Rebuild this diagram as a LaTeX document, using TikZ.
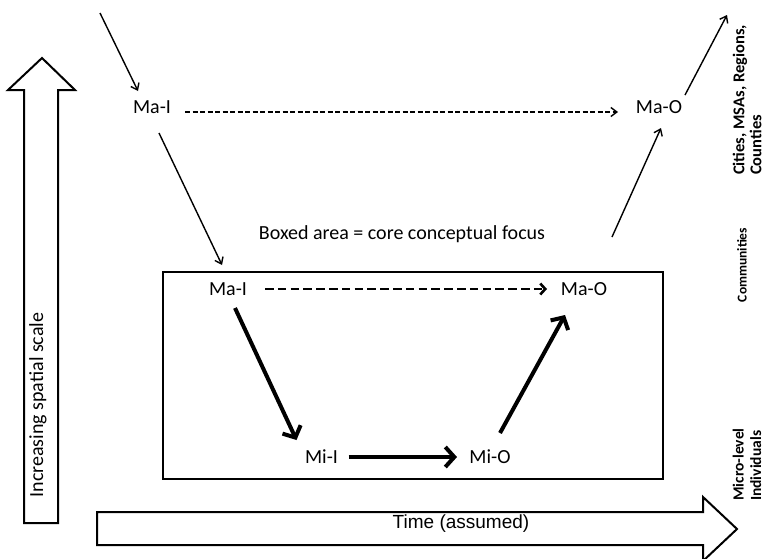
\documentclass[tikz,border=0pt]{standalone}
\usepackage{fontspec}
\setmainfont{Carlito}
\newfontfamily\arialf{Liberation Sans}
\usetikzlibrary{arrows.meta,calc}
\begin{document}
\begin{tikzpicture}[x=1pt,y=-1pt,
  lbl/.style={inner sep=0pt,font=\fontsize{20}{24}\selectfont},
  sidelbl/.style={inner sep=0pt,rotate=90,anchor=west,align=left,font=\bfseries\fontsize{15.5}{17.5}\selectfont},
  thinarrow/.style={line width=1.4pt,-{Straight Barb[length=6pt,width=9pt]}},
  thindash/.style={thinarrow,dash pattern=on 5pt off 2.5pt},
  thickarrow/.style={line width=4pt,-{Straight Barb[length=9pt,width=20pt]}},
  middash/.style={line width=2.6pt,dash pattern=on 8.5pt off 4.3pt,-{Straight Barb[length=5pt,width=11pt]}},
  blockarrow/.style={draw,line width=2pt,fill=white,line join=miter}]
\useasboundingbox (0,0) rectangle (767,558);
\clip (0,0) rectangle (767,558);
\fill[white] (0,0) rectangle (767,558);

% block arrows
\draw[blockarrow] (24,523) -- (24,90) -- (8,90) -- (42,58) -- (75,90) -- (58,90) -- (58,523) -- cycle;
\draw[blockarrow] (97,512) -- (703,512) -- (703,497) -- (737,529) -- (703,561) -- (703,545) -- (97,545) -- cycle;
\node[lbl,rotate=90] (scale) at (38,405) {Increasing spatial scale};
\node[inner sep=0pt,font=\arialf\fontsize{19}{23}\selectfont] (time) at (461,524) {Time (assumed)};

% box
\node[draw,line width=1.5pt,minimum width=500pt,minimum height=207pt,inner sep=0pt] (box) at (413,375.5) {};
\node[lbl] (focus) at (402,234) {Boxed area = core conceptual focus};

% nodes
\node[lbl] (maIt) at (152,107) {Ma-I};
\node[lbl] (maOt) at (659,107) {Ma-O};
\node[lbl] (maIb) at (228,289) {Ma-I};
\node[lbl] (maOb) at (584,289) {Ma-O};
\node[lbl] (miI) at (321.5,457) {Mi-I};
\node[lbl] (miO) at (490,457) {Mi-O};
\coordinate (inc) at (100,13);
\coordinate (outc) at (727,15);

% side labels
\node[sidelbl,font=\bfseries\fontsize{16.5}{17}\selectfont] (cities) at (747,175) {Cities, MSAs, Regions,\\Counties};
\node[sidelbl,anchor=center,font=\bfseries\fontsize{13.5}{16}\selectfont] (comm) at (742,265) {Communities};
\node[sidelbl] (micro) at (747,501) {Micro-level\\Individuals};

% connectors
\draw[thinarrow] (inc) -- ($(maIt)+(-14,-16)$);
\draw[thindash] ($(maIt)+(33,5)$) -- ($(maOt)+(-41,5)$);
\draw[thinarrow] ($(maIt)+(7,26)$) -- ($(maIb)+(-6,-24)$);
\draw[thinarrow] ($(maOb)+(28,-52)$) -- ($(maOt)+(2,21)$);
\draw[thinarrow] ($(maOt)+(26,-12)$) -- (outc);
\draw[middash] ($(maIb)+(37,0)$) -- ($(maOb)+(-37,0)$);
\draw[thickarrow] ($(maIb)+(7,19)$) -- ($(miI)+(-25,-17)$);
\draw[thickarrow] ($(miI)+(27,0)$) -- ($(miO)+(-33,0)$);
\draw[thickarrow] ($(miO)+(10,-24)$) -- ($(maOb)+(-19,26)$);
\end{tikzpicture}
\end{document}
